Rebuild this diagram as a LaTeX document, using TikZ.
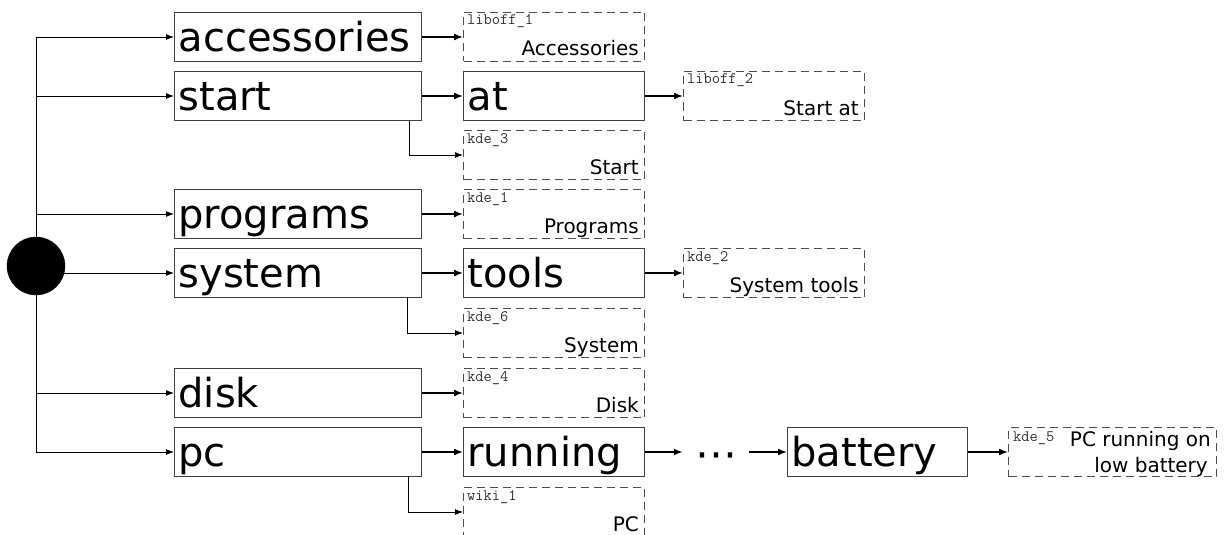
\documentclass[tikz,border=0pt]{standalone}
\usepackage{fontspec}
\setmainfont{DejaVu Sans}
\usetikzlibrary{arrows.meta}
\begin{document}
\begin{tikzpicture}[x=1pt,y=-1pt,
  bigbox/.style={draw=black!75, line width=1pt, minimum height=49pt, inner xsep=4pt, inner ysep=0pt,
    text height=39pt, text depth=10pt, align=left, font=\fontsize{40}{40}\selectfont, anchor=north west},
  dbox/.style={draw=black!70, line width=1pt, dash pattern=on 8pt off 5pt, minimum width=181pt,
    minimum height=49pt, inner sep=0pt, anchor=north west},
  lbl/.style={font=\ttfamily\fontsize{16}{16}\selectfont, text=black!80, inner sep=0pt, anchor=base west},
  sm/.style={font=\fontsize{20}{22}\selectfont, inner sep=0pt, anchor=base east},
  arr/.style={-{Latex[length=9pt,width=7pt]}, line width=1.6pt},
  tarr/.style={-{Latex[length=8pt,width=6pt]}, line width=0.9pt}
]
\path[use as bounding box] (0,0) rectangle (1226,535);
\clip (0,0) rectangle (1226,535);

% root
\node[circle, fill=black, draw=black, minimum size=58pt, inner sep=0pt] (root) at (36,266) {};

% left column
\node[bigbox, text width=239pt] (accessories) at (174,12) {accessories};
\node[bigbox, text width=239pt] (start) at (174,71) {start};
\node[bigbox, text width=239pt] (programs) at (174,189) {programs};
\node[bigbox, text width=239pt] (system) at (174,248) {system};
\node[bigbox, text width=239pt] (disk) at (174,368) {disk};
\node[bigbox, text width=239pt] (pc) at (174,427) {pc};

% second column
\node[dbox] (liboff1) at (463,12) {};
\node[bigbox, text width=173pt] (at) at (463,71) {at};
\node[dbox] (kde3) at (463,130) {};
\node[dbox] (kde1) at (463,189) {};
\node[bigbox, text width=173pt] (tools) at (463,248) {tools};
\node[dbox] (kde6) at (463,308) {};
\node[dbox] (kde4) at (463,368) {};
\node[bigbox, text width=173pt] (running) at (463,427) {running};
\node[dbox] (wiki1) at (463,487) {};

% third column
\node[dbox] (liboff2) at (683,71) {};
\node[dbox] (kde2) at (683,248) {};
\node[minimum width=66pt, minimum height=20pt, inner sep=0pt, font=\fontsize{42}{42}\selectfont] (dots) at (716,461) {⋯};
\node[bigbox, text width=172pt] (battery) at (787,427) {battery};
\node[dbox, minimum width=208pt] (kde5) at (1008,427) {};

% labels inside dashed boxes
\node[lbl] (liboff1-l) at ([xshift=4pt,yshift=-13pt]liboff1.north west) {liboff\_1};
\node[sm] (liboff1-t) at ([xshift=-6pt,yshift=6pt]liboff1.south east) {Accessories};
\node[lbl] (kde3-l) at ([xshift=4pt,yshift=-13pt]kde3.north west) {kde\_3};
\node[sm] (kde3-t) at ([xshift=-6pt,yshift=6pt]kde3.south east) {Start};
\node[lbl] (kde1-l) at ([xshift=4pt,yshift=-13pt]kde1.north west) {kde\_1};
\node[sm] (kde1-t) at ([xshift=-6pt,yshift=6pt]kde1.south east) {Programs};
\node[lbl] (kde6-l) at ([xshift=4pt,yshift=-13pt]kde6.north west) {kde\_6};
\node[sm] (kde6-t) at ([xshift=-6pt,yshift=6pt]kde6.south east) {System};
\node[lbl] (kde4-l) at ([xshift=4pt,yshift=-13pt]kde4.north west) {kde\_4};
\node[sm] (kde4-t) at ([xshift=-6pt,yshift=6pt]kde4.south east) {Disk};
\node[lbl] (wiki1-l) at ([xshift=4pt,yshift=-13pt]wiki1.north west) {wiki\_1};
\node[sm] (wiki1-t) at ([xshift=-6pt,yshift=6pt]wiki1.south east) {PC};
\node[lbl] (liboff2-l) at ([xshift=4pt,yshift=-13pt]liboff2.north west) {liboff\_2};
\node[sm] (liboff2-t) at ([xshift=-6pt,yshift=6pt]liboff2.south east) {Start at};
\node[lbl] (kde2-l) at ([xshift=4pt,yshift=-13pt]kde2.north west) {kde\_2};
\node[sm] (kde2-t) at ([xshift=-6pt,yshift=6pt]kde2.south east) {System tools};
\node[lbl] (kde5-l) at ([xshift=5pt,yshift=-14pt]kde5.north west) {kde\_5};
\node[sm] (kde5-t1) at ([xshift=-6pt,yshift=-19pt]kde5.north east) {PC running on};
\node[sm] (kde5-t2) at ([xshift=-9pt,yshift=5pt]kde5.south east) {low battery};

% trunk connectors
\draw[tarr] (root.center) |- (accessories.west);
\draw[tarr] (root.center) |- (start.west);
\draw[tarr] (root.center) |- (programs.west);
\draw[tarr] (root.center |- system.west) -- (system.west);
\draw[tarr] (root.center) |- (disk.west);
\draw[tarr] (root.center) |- (pc.west);

% box-to-box arrows
\draw[arr] (accessories.east) -- (accessories.east -| liboff1.west);
\draw[arr] (start.east) -- (start.east -| at.west);
\draw[arr] (at.east) -- (at.east -| liboff2.west);
\draw[arr] (programs.east) -- (programs.east -| kde1.west);
\draw[arr] (system.east) -- (system.east -| tools.west);
\draw[arr] (tools.east) -- (tools.east -| kde2.west);
\draw[arr] (disk.east) -- (disk.east -| kde4.west);
\draw[arr] (pc.east) -- (pc.east -| running.west);
\draw[arr] (running.east) -- (running.east -| dots.west);
\draw[arr] (dots.east |- battery.west) -- (battery.west);
\draw[arr] (battery.east) -- (battery.east -| kde5.west);

% elbow arrows
\draw[tarr] ([xshift=235pt]start.south west) |- (kde3.west);
\draw[tarr] ([xshift=233pt]system.south west) |- (kde6.west);
\draw[tarr] ([xshift=234pt]pc.south west) |- (wiki1.west);
\end{tikzpicture}
\end{document}
